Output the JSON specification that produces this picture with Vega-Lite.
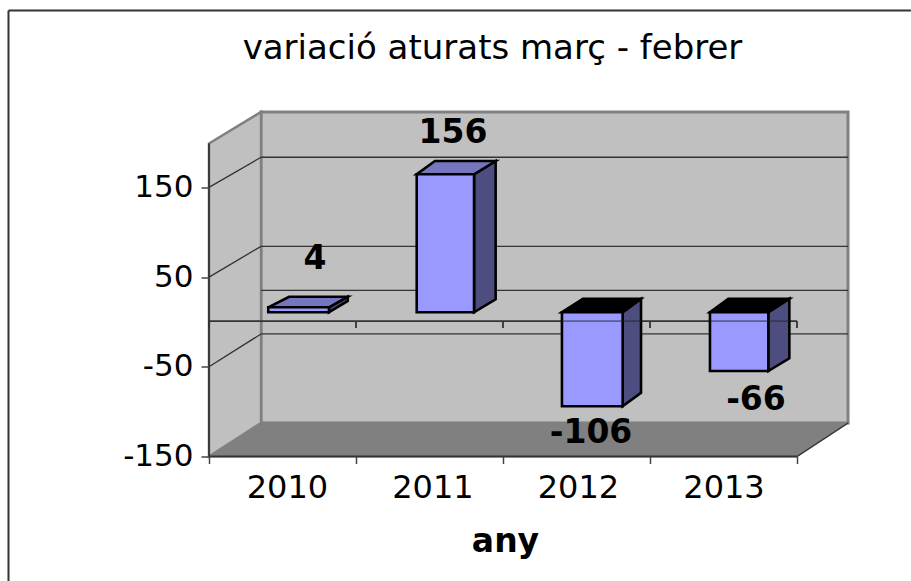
{
"$schema":"https://vega.github.io/schema/vega-lite/v6.json",
"width":639,"height":345,
"autosize":{"type":"none"},
"padding":{"left":209,"top":111.5,"right":63,"bottom":124.5},
"background":"white",
"view":{"stroke":null},
"title":{"text":"variació aturats març - febrer","font":"DejaVu Sans","fontSize":34,"fontWeight":"normal","color":"black","anchor":"middle","frame":"group","dx":-36,"offset":-56},
"layer":[
{"data":{"values":[{"x":-1.364,"x2":4.775,"y":347.1,"y2":347.1},{"x":-1.364,"x2":-1.364,"y":347.1,"y2":-289}]},
 "mark":{"type":"rule","stroke":"#333333","strokeWidth":2},
 "encoding":{
  "x":{"field":"x","type":"quantitative","scale":{"domain":[0,4.347],"nice":false,"zero":false},
   "axis":{"values":[0,0.53,1,1.52,2,2.51,3,3.5,4],"domain":false,"grid":false,"zindex":1,"tickSize":7,"tickColor":"#444444","tickWidth":1.5,"tickOpacity":{"condition":{"test":"datum.value % 1 == 0","value":1},"value":0},
    "labelExpr":"datum.value % 1 != 0 ? '' + (2010 + floor(datum.value)) : ''","labelFont":"DejaVu Sans","labelFontSize":32,"labelColor":"black","labelPadding":9,"labelOverlap":false,"labelFlush":false,"labelBound":false,
    "title":"any","titleFont":"DejaVu Sans","titleFontSize":33,"titleFontWeight":"bold","titleColor":"black","titleX":296,"titleY":94.5,"titleBaseline":"alphabetic"}},
  "x2":{"field":"x2"},
  "y":{"field":"y","type":"quantitative","scale":{"domain":[-150,234.6],"nice":false,"zero":false},
   "axis":{"values":[-150,-50,50,150],"domain":false,"grid":false,"zindex":1,"tickSize":8,"tickColor":"#444444","tickWidth":1.5,"labelExpr":"'' + datum.value","labelFont":"DejaVu Sans","labelFontSize":31,"labelColor":"black","labelPadding":8,"labelOverlap":false,"labelBound":false,"title":null}},
  "y2":{"field":"y2"}}},
{"data":{"values":[{"x":0.354,"x2":4.347,"y":234,"y2":-112.7}]},
 "mark":{"type":"rect","fill":"#c0c0c0","stroke":"#808080","strokeWidth":3},
 "encoding":{"x":{"field":"x","type":"quantitative"},"x2":{"field":"x2"},"y":{"field":"y","type":"quantitative"},"y2":{"field":"y2"}}},
{"data":{"values":[{"x":0,"y":198.9,"y2":-150},{"x":0.354,"y":234,"y2":-112.7}]},
 "mark":{"type":"area","fill":"#c0c0c0","stroke":"#808080","strokeWidth":2.5},
 "encoding":{"x":{"field":"x","type":"quantitative"},"y":{"field":"y","type":"quantitative"},"y2":{"field":"y2"}}},
{"data":{"values":[{"y":-150,"x":0,"x2":4},{"y":-112.7,"x":0.354,"x2":4.347}]},
 "mark":{"type":"area","orient":"horizontal","fill":"#808080","stroke":"#808080","strokeWidth":1.5},
 "encoding":{"y":{"field":"y","type":"quantitative"},"x":{"field":"x","type":"quantitative"},"x2":{"field":"x2"}}},
{"data":{"values":[
 {"x":0,"x2":0.354,"y":150,"y2":183.6},{"x":0,"x2":0.354,"y":50,"y2":84.3},{"x":0,"x2":0.354,"y":-50,"y2":-13.4},
 {"x":0.354,"x2":4.347,"y":183.6,"y2":183.6},{"x":0.354,"x2":4.347,"y":84.3,"y2":84.3},{"x":0.354,"x2":4.347,"y":35.3,"y2":35.3},{"x":0.354,"x2":4.347,"y":-13.4,"y2":-13.4},
 {"x":4,"x2":4.347,"y":-150,"y2":-112.7}]},
 "mark":{"type":"rule","stroke":"#333333","strokeWidth":1.3},
 "encoding":{"x":{"field":"x","type":"quantitative"},"x2":{"field":"x2"},"y":{"field":"y","type":"quantitative"},"y2":{"field":"y2"}}},
{"data":{"values":[
 {"x":0,"x2":0,"y":198.9,"y2":-150},{"x":0,"x2":4,"y":-150,"y2":-150},{"x":0,"x2":4,"y":1,"y2":1},
 {"x":0,"x2":0,"y":1,"y2":-6.7},{"x":1,"x2":1,"y":1,"y2":-6.7},{"x":2,"x2":2,"y":1,"y2":-6.7},{"x":3,"x2":3,"y":1,"y2":-6.7},{"x":4,"x2":4,"y":1,"y2":-6.7}]},
 "mark":{"type":"rule","stroke":"#333333","strokeWidth":1.8},
 "encoding":{"x":{"field":"x","type":"quantitative"},"x2":{"field":"x2"},"y":{"field":"y","type":"quantitative"},"y2":{"field":"y2"}}},
{"data":{"values":[
 {"bar":"2010","x":0.816,"y":16.3,"y2":10.8},{"bar":"2010","x":0.944,"y":28.1,"y2":23.4},
 {"bar":"2011","x":1.803,"y":164.6,"y2":10.8},{"bar":"2011","x":1.95,"y":179.4,"y2":25.3},
 {"bar":"2012","x":2.814,"y":10.8,"y2":-94},{"bar":"2012","x":2.939,"y":25.9,"y2":-78.9},
 {"bar":"2013","x":3.805,"y":10.8,"y2":-54.7},{"bar":"2013","x":3.948,"y":25.9,"y2":-40.5}]},
 "mark":{"type":"area","fill":"#4d4d80","stroke":"black","strokeWidth":2.6},
 "encoding":{"x":{"field":"x","type":"quantitative"},"y":{"field":"y","type":"quantitative"},"y2":{"field":"y2"},"detail":{"field":"bar"}}},
{"data":{"values":[
 {"bar":"2010","sign":"positive","y":16.3,"x":0.403,"x2":0.816},{"bar":"2010","sign":"positive","y":28.1,"x":0.546,"x2":0.944},
 {"bar":"2011","sign":"positive","y":164.6,"x":1.413,"x2":1.803},{"bar":"2011","sign":"positive","y":179.4,"x":1.537,"x2":1.95},
 {"bar":"2012","sign":"negative","y":10.8,"x":2.401,"x2":2.814},{"bar":"2012","sign":"negative","y":25.9,"x":2.546,"x2":2.939},
 {"bar":"2013","sign":"negative","y":10.8,"x":3.408,"x2":3.805},{"bar":"2013","sign":"negative","y":25.9,"x":3.533,"x2":3.948}]},
 "mark":{"type":"area","orient":"horizontal","stroke":"black","strokeWidth":2.6},
 "encoding":{"y":{"field":"y","type":"quantitative"},"x":{"field":"x","type":"quantitative"},"x2":{"field":"x2"},"detail":{"field":"bar"},
  "fill":{"field":"sign","type":"nominal","scale":{"domain":["positive","negative"],"range":["#7676bf","#000000"]},"legend":null}}},
{"data":{"values":[
 {"year":"2010","x":0.403,"x2":0.816,"y":16.3,"y2":10.8},
 {"year":"2011","x":1.413,"x2":1.803,"y":164.6,"y2":10.8},
 {"year":"2012","x":2.401,"x2":2.814,"y":10.8,"y2":-94},
 {"year":"2013","x":3.408,"x2":3.805,"y":10.8,"y2":-54.7}]},
 "mark":{"type":"rect","fill":"#9999ff","stroke":"black","strokeWidth":2.6},
 "encoding":{"x":{"field":"x","type":"quantitative"},"x2":{"field":"x2"},"y":{"field":"y","type":"quantitative"},"y2":{"field":"y2"}}},
{"data":{"values":[{"x":2.401,"x2":2.939,"y":1},{"x":3.408,"x2":3.948,"y":1}]},
 "mark":{"type":"rule","stroke":"#222222","strokeWidth":1.8,"opacity":0.5},
 "encoding":{"x":{"field":"x","type":"quantitative"},"x2":{"field":"x2"},"y":{"field":"y","type":"quantitative"}}},
{"data":{"values":[
 {"label":"4","x":0.721,"y":70.5},{"label":"156","x":1.66,"y":210.5},{"label":"-106","x":2.599,"y":-123.5},{"label":"-66","x":3.721,"y":-87}]},
 "mark":{"type":"text","font":"DejaVu Sans","fontSize":33,"fontWeight":"bold","color":"black","align":"center","baseline":"middle"},
 "encoding":{"x":{"field":"x","type":"quantitative"},"y":{"field":"y","type":"quantitative"},"text":{"field":"label","type":"nominal"}}}
]
}
